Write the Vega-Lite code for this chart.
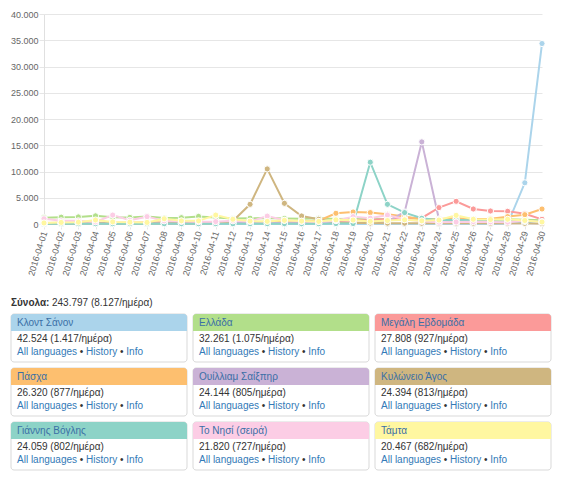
{
  "$schema": "https://vega.github.io/schema/vega-lite/v6.json",
  "padding": {"left": 10, "top": 10, "right": 5, "bottom": 2},
  "spacing": 2,
  "config": {
    "font": "Liberation Sans",
    "locale": {"number": {"decimal": ",", "thousands": ".", "grouping": [3], "currency": ["", " €"]}},
    "view": {"stroke": null},
    "axis": {
      "gridColor": "#e6e6e6", "tickColor": "#e6e6e6", "domainColor": "#d6d6d6",
      "labelColor": "#666666", "labelFont": "Liberation Sans", "labelFontSize": 9,
      "tickSize": 5, "title": null
    }
  },
  "datasets": {
    "articles": [
      {"rank": 1, "name": "Κλοντ Σάνον", "total": 42524, "daily": 1417},
      {"rank": 2, "name": "Ελλάδα", "total": 32261, "daily": 1075},
      {"rank": 3, "name": "Μεγάλη Εβδομάδα", "total": 27808, "daily": 927},
      {"rank": 4, "name": "Πάσχα", "total": 26320, "daily": 877},
      {"rank": 5, "name": "Ουίλλιαμ Σαίξπηρ", "total": 24144, "daily": 805},
      {"rank": 6, "name": "Κυλώνειο Άγος", "total": 24394, "daily": 813},
      {"rank": 7, "name": "Γιάννης Βόγλης", "total": 24059, "daily": 802},
      {"rank": 8, "name": "Το Νησί (σειρά)", "total": 21820, "daily": 727},
      {"rank": 9, "name": "Τάμτα", "total": 20467, "daily": 682}
    ],
    "views": [
      {"date": "2016-04-01", "Κλοντ Σάνον": 12, "Ελλάδα": 1200, "Μεγάλη Εβδομάδα": 150, "Πάσχα": 200, "Ουίλλιαμ Σαίξπηρ": 180, "Κυλώνειο Άγος": 90, "Γιάννης Βόγλης": 60, "Το Νησί (σειρά)": 1000, "Τάμτα": 200},
      {"date": "2016-04-02", "Κλοντ Σάνον": 10, "Ελλάδα": 1300, "Μεγάλη Εβδομάδα": 170, "Πάσχα": 220, "Ουίλλιαμ Σαίξπηρ": 170, "Κυλώνειο Άγος": 110, "Γιάννης Βόγλης": 55, "Το Νησί (σειρά)": 600, "Τάμτα": 300},
      {"date": "2016-04-03", "Κλοντ Σάνον": 9, "Ελλάδα": 1350, "Μεγάλη Εβδομάδα": 160, "Πάσχα": 230, "Ουίλλιαμ Σαίξπηρ": 190, "Κυλώνειο Άγος": 100, "Γιάννης Βόγλης": 65, "Το Νησί (σειρά)": 600, "Τάμτα": 350},
      {"date": "2016-04-04", "Κλοντ Σάνον": 11, "Ελλάδα": 1550, "Μεγάλη Εβδομάδα": 200, "Πάσχα": 250, "Ουίλλιαμ Σαίξπηρ": 160, "Κυλώνειο Άγος": 120, "Γιάννης Βόγλης": 50, "Το Νησί (σειρά)": 400, "Τάμτα": 760},
      {"date": "2016-04-05", "Κλοντ Σάνον": 8, "Ελλάδα": 1300, "Μεγάλη Εβδομάδα": 190, "Πάσχα": 240, "Ουίλλιαμ Σαίξπηρ": 200, "Κυλώνειο Άγος": 90, "Γιάννης Βόγλης": 60, "Το Νησί (σειρά)": 1700, "Τάμτα": 400},
      {"date": "2016-04-06", "Κλοντ Σάνον": 7, "Ελλάδα": 1250, "Μεγάλη Εβδομάδα": 210, "Πάσχα": 260, "Ουίλλιαμ Σαίξπηρ": 170, "Κυλώνειο Άγος": 100, "Γιάννης Βόγλης": 55, "Το Νησί (σειρά)": 700, "Τάμτα": 350},
      {"date": "2016-04-07", "Κλοντ Σάνον": 10, "Ελλάδα": 1411, "Μεγάλη Εβδομάδα": 230, "Πάσχα": 270, "Ουίλλιαμ Σαίξπηρ": 180, "Κυλώνειο Άγος": 110, "Γιάννης Βόγλης": 45, "Το Νησί (σειρά)": 1400, "Τάμτα": 300},
      {"date": "2016-04-08", "Κλοντ Σάνον": 12, "Ελλάδα": 1150, "Μεγάλη Εβδομάδα": 220, "Πάσχα": 280, "Ουίλλιαμ Σαίξπηρ": 190, "Κυλώνειο Άγος": 95, "Γιάννης Βόγλης": 50, "Το Νησί (σειρά)": 600, "Τάμτα": 1000},
      {"date": "2016-04-09", "Κλοντ Σάνον": 9, "Ελλάδα": 1200, "Μεγάλη Εβδομάδα": 240, "Πάσχα": 290, "Ουίλλιαμ Σαίξπηρ": 160, "Κυλώνειο Άγος": 105, "Γιάννης Βόγλης": 60, "Το Νησί (σειρά)": 500, "Τάμτα": 600},
      {"date": "2016-04-10", "Κλοντ Σάνον": 8, "Ελλάδα": 1450, "Μεγάλη Εβδομάδα": 280, "Πάσχα": 300, "Ουίλλιαμ Σαίξπηρ": 170, "Κυλώνειο Άγος": 100, "Γιάννης Βόγλης": 55, "Το Νησί (σειρά)": 450, "Τάμτα": 600},
      {"date": "2016-04-11", "Κλοντ Σάνον": 11, "Ελλάδα": 1250, "Μεγάλη Εβδομάδα": 300, "Πάσχα": 320, "Ουίλλιαμ Σαίξπηρ": 180, "Κυλώνειο Άγος": 110, "Γιάννης Βόγλης": 65, "Το Νησί (σειρά)": 450, "Τάμτα": 1700},
      {"date": "2016-04-12", "Κλοντ Σάνον": 10, "Ελλάδα": 1050, "Μεγάλη Εβδομάδα": 320, "Πάσχα": 350, "Ουίλλιαμ Σαίξπηρ": 170, "Κυλώνειο Άγος": 570, "Γιάννης Βόγλης": 50, "Το Νησί (σειρά)": 600, "Τάμτα": 900},
      {"date": "2016-04-13", "Κλοντ Σάνον": 9, "Ελλάδα": 1100, "Μεγάλη Εβδομάδα": 350, "Πάσχα": 380, "Ουίλλιαμ Σαίξπηρ": 190, "Κυλώνειο Άγος": 3750, "Γιάννης Βόγλης": 55, "Το Νησί (σειρά)": 500, "Τάμτα": 550},
      {"date": "2016-04-14", "Κλοντ Σάνον": 8, "Ελλάδα": 1150, "Μεγάλη Εβδομάδα": 380, "Πάσχα": 420, "Ουίλλιαμ Σαίξπηρ": 180, "Κυλώνειο Άγος": 10490, "Γιάννης Βόγλης": 60, "Το Νησί (σειρά)": 1500, "Τάμτα": 500},
      {"date": "2016-04-15", "Κλοντ Σάνον": 10, "Ελλάδα": 1050, "Μεγάλη Εβδομάδα": 400, "Πάσχα": 450, "Ουίλλιαμ Σαίξπηρ": 170, "Κυλώνειο Άγος": 3940, "Γιάννης Βόγλης": 65, "Το Νησί (σειρά)": 700, "Τάμτα": 700},
      {"date": "2016-04-16", "Κλοντ Σάνον": 12, "Ελλάδα": 1000, "Μεγάλη Εβδομάδα": 420, "Πάσχα": 520, "Ουίλλιαμ Σαίξπηρ": 160, "Κυλώνειο Άγος": 1530, "Γιάννης Βόγλης": 60, "Το Νησί (σειρά)": 500, "Τάμτα": 550},
      {"date": "2016-04-17", "Κλοντ Σάνον": 9, "Ελλάδα": 1100, "Μεγάλη Εβδομάδα": 480, "Πάσχα": 640, "Ουίλλιαμ Σαίξπηρ": 180, "Κυλώνειο Άγος": 900, "Γιάννης Βόγλης": 55, "Το Νησί (σειρά)": 450, "Τάμτα": 500},
      {"date": "2016-04-18", "Κλοντ Σάνον": 11, "Ελλάδα": 950, "Μεγάλη Εβδομάδα": 560, "Πάσχα": 2040, "Ουίλλιαμ Σαίξπηρ": 190, "Κυλώνειο Άγος": 280, "Γιάννης Βόγλης": 90, "Το Νησί (σειρά)": 640, "Τάμτα": 800},
      {"date": "2016-04-19", "Κλοντ Σάνον": 10, "Ελλάδα": 1000, "Μεγάλη Εβδομάδα": 650, "Πάσχα": 2290, "Ουίλλιαμ Σαίξπηρ": 200, "Κυλώνειο Άγος": 210, "Γιάννης Βόγλης": 85, "Το Νησί (σειρά)": 1400, "Τάμτα": 750},
      {"date": "2016-04-20", "Κλοντ Σάνον": 9, "Ελλάδα": 950, "Μεγάλη Εβδομάδα": 750, "Πάσχα": 2170, "Ουίλλιαμ Σαίξπηρ": 210, "Κυλώνειο Άγος": 180, "Γιάννης Βόγλης": 11770, "Το Νησί (σειρά)": 1100, "Τάμτα": 500},
      {"date": "2016-04-21", "Κλοντ Σάνον": 8, "Ελλάδα": 900, "Μεγάλη Εβδομάδα": 950, "Πάσχα": 1850, "Ουίλλιαμ Σαίξπηρ": 450, "Κυλώνειο Άγος": 160, "Γιάννης Βόγλης": 3750, "Το Νησί (σειρά)": 1700, "Τάμτα": 650},
      {"date": "2016-04-22", "Κλοντ Σάνον": 10, "Ελλάδα": 850, "Μεγάλη Εβδομάδα": 1000, "Πάσχα": 1410, "Ουίλλιαμ Σαίξπηρ": 2300, "Κυλώνειο Άγος": 150, "Γιάννης Βόγλης": 2170, "Το Νησί (σειρά)": 900, "Τάμτα": 800},
      {"date": "2016-04-23", "Κλοντ Σάνον": 12, "Ελλάδα": 800, "Μεγάλη Εβδομάδα": 1158, "Πάσχα": 900, "Ουίλλιαμ Σαίξπηρ": 15640, "Κυλώνειο Άγος": 140, "Γιάννης Βόγλης": 1090, "Το Νησί (σειρά)": 500, "Τάμτα": 600},
      {"date": "2016-04-24", "Κλοντ Σάνον": 11, "Ελλάδα": 850, "Μεγάλη Εβδομάδα": 3120, "Πάσχα": 950, "Ουίλλιαμ Σαίξπηρ": 900, "Κυλώνειο Άγος": 150, "Γιάννης Βόγλης": 700, "Το Νησί (σειρά)": 350, "Τάμτα": 750},
      {"date": "2016-04-25", "Κλοντ Σάνον": 9, "Ελλάδα": 900, "Μεγάλη Εβδομάδα": 4320, "Πάσχα": 1100, "Ουίλλιαμ Σαίξπηρ": 320, "Κυλώνειο Άγος": 160, "Γιάννης Βόγλης": 800, "Το Νησί (σειρά)": 380, "Τάμτα": 1650},
      {"date": "2016-04-26", "Κλοντ Σάνον": 10, "Ελλάδα": 950, "Μεγάλη Εβδομάδα": 2860, "Πάσχα": 950, "Ουίλλιαμ Σαίξπηρ": 230, "Κυλώνειο Άγος": 150, "Γιάννης Βόγλης": 650, "Το Νησί (σειρά)": 450, "Τάμτα": 900},
      {"date": "2016-04-27", "Κλοντ Σάνον": 14, "Ελλάδα": 850, "Μεγάλη Εβδομάδα": 2480, "Πάσχα": 1000, "Ουίλλιαμ Σαίξπηρ": 200, "Κυλώνειο Άγος": 140, "Γιάννης Βόγλης": 550, "Το Νησί (σειρά)": 400, "Τάμτα": 850},
      {"date": "2016-04-28", "Κλοντ Σάνον": 30, "Ελλάδα": 900, "Μεγάλη Εβδομάδα": 2420, "Πάσχα": 1400, "Ουίλλιαμ Σαίξπηρ": 180, "Κυλώνειο Άγος": 130, "Γιάννης Βόγλης": 500, "Το Νησί (σειρά)": 350, "Τάμτα": 900},
      {"date": "2016-04-29", "Κλοντ Σάνον": 7850, "Ελλάδα": 800, "Μεγάλη Εβδομάδα": 1950, "Πάσχα": 1780, "Ουίλλιαμ Σαίξπηρ": 170, "Κυλώνειο Άγος": 120, "Γιάννης Βόγλης": 480, "Το Νησί (σειρά)": 600, "Τάμτα": 677},
      {"date": "2016-04-30", "Κλοντ Σάνον": 34375, "Ελλάδα": 700, "Μεγάλη Εβδομάδα": 890, "Πάσχα": 2860, "Ουίλλιαμ Σαίξπηρ": 154, "Κυλώνειο Άγος": 114, "Γιάννης Βόγλης": 459, "Το Νησί (σειρά)": 400, "Τάμτα": 380}
    ]
  },
  "vconcat": [
    {
      "width": 498,
      "height": 210,
      "data": {"name": "views"},
      "transform": [
        {"fold": ["Κλοντ Σάνον", "Ελλάδα", "Μεγάλη Εβδομάδα", "Πάσχα", "Ουίλλιαμ Σαίξπηρ", "Κυλώνειο Άγος", "Γιάννης Βόγλης", "Το Νησί (σειρά)", "Τάμτα"], "as": ["article", "views"]}
      ],
      "encoding": {
        "x": {"field": "date", "type": "ordinal", "scale": {"type": "point", "padding": 0},
              "axis": {"labelAngle": -73, "labelPadding": 2, "domain": false}},
        "y": {"field": "views", "type": "quantitative", "scale": {"domain": [0, 40000]},
              "axis": {"values": [0, 5000, 10000, 15000, 20000, 25000, 30000, 35000, 40000], "format": ",d", "labelPadding": 1, "domainColor": "#e0e0e0"}},
        "color": {"field": "article", "type": "nominal", "legend": null,
                  "scale": {"domain": ["Κλοντ Σάνον", "Ελλάδα", "Μεγάλη Εβδομάδα", "Πάσχα", "Ουίλλιαμ Σαίξπηρ", "Κυλώνειο Άγος", "Γιάννης Βόγλης", "Το Νησί (σειρά)", "Τάμτα"],
                            "range": ["#abd4eb", "#b2df8a", "#fb9a99", "#fdbf6f", "#cab2d6", "#cfb680", "#8dd3c7", "#fccde5", "#fff7a1"]}}
      },
      "layer": [
        {"mark": {"type": "line", "strokeWidth": 2}},
        {"mark": {"type": "point", "filled": true, "size": 38, "stroke": "white", "strokeWidth": 1, "opacity": 1}}
      ]
    },
    {
      "width": 498,
      "height": 31,
      "data": {"values": [{"label": "Σύνολα:", "value": "243.797 (8.127/ημέρα)"}]},
      "layer": [
        {"mark": {"type": "text", "align": "left", "baseline": "middle", "fontSize": 10, "fontWeight": "bold", "color": "#333333", "x": -33, "y": 24},
         "encoding": {"text": {"field": "label"}}},
        {"mark": {"type": "text", "align": "left", "baseline": "middle", "fontSize": 10, "color": "#333333", "x": 8, "y": 24},
         "encoding": {"text": {"field": "value"}}}
      ]
    },
    {
      "data": {"name": "articles"},
      "transform": [
        {"calculate": "format(datum.total, ',d') + ' (' + format(datum.daily, ',d') + '/ημέρα)'", "as": "stats"}
      ],
      "facet": {"field": "name", "type": "nominal", "sort": {"field": "rank", "op": "min"},
                "header": {"labelExpr": "''", "labelPadding": 0, "labelFontSize": 1, "labels": false, "title": null}, "title": null},
      "columns": 3,
      "bounds": "flush",
      "spacing": {"row": 6, "column": 6},
      "spec": {
        "width": 176,
        "height": 48,
        "layer": [
          {"mark": {"type": "rect", "fill": "white", "stroke": "#d9d9d9", "cornerRadius": 3},
           "encoding": {"x": {"value": -33}, "x2": {"value": 143}, "y": {"value": 0}, "y2": {"value": "height"}}},
          {"mark": {"type": "rect", "cornerRadiusTopLeft": 3, "cornerRadiusTopRight": 3},
           "encoding": {"x": {"value": -33}, "x2": {"value": 143}, "y": {"value": 0}, "y2": {"value": 17},
                        "fill": {"field": "name", "type": "nominal", "legend": null,
                                 "scale": {"domain": ["Κλοντ Σάνον", "Ελλάδα", "Μεγάλη Εβδομάδα", "Πάσχα", "Ουίλλιαμ Σαίξπηρ", "Κυλώνειο Άγος", "Γιάννης Βόγλης", "Το Νησί (σειρά)", "Τάμτα"],
                                           "range": ["#abd4eb", "#b2df8a", "#fb9a99", "#fdbf6f", "#cab2d6", "#cfb680", "#8dd3c7", "#fccde5", "#fff7a1"]}}}},
          {"mark": {"type": "text", "align": "left", "baseline": "middle", "fontSize": 10, "color": "#3a6fa6", "x": -27, "y": 9},
           "encoding": {"text": {"field": "name"}}},
          {"mark": {"type": "text", "align": "left", "baseline": "middle", "fontSize": 10, "color": "#333333", "x": -27, "y": 25},
           "encoding": {"text": {"field": "stats"}}},
          {"mark": {"type": "text", "align": "left", "baseline": "middle", "fontSize": 10, "color": "#337ab7", "x": -27, "y": 38, "text": "All languages"},
           "encoding": {}},
          {"mark": {"type": "text", "align": "left", "baseline": "middle", "fontSize": 10, "color": "#333333", "x": 35.8, "y": 38, "text": "•"},
           "encoding": {}},
          {"mark": {"type": "text", "align": "left", "baseline": "middle", "fontSize": 10, "color": "#337ab7", "x": 42.1, "y": 38, "text": "History"},
           "encoding": {}},
          {"mark": {"type": "text", "align": "left", "baseline": "middle", "fontSize": 10, "color": "#333333", "x": 76, "y": 38, "text": "•"},
           "encoding": {}},
          {"mark": {"type": "text", "align": "left", "baseline": "middle", "fontSize": 10, "color": "#337ab7", "x": 82.3, "y": 38, "text": "Info"},
           "encoding": {}}
        ]
      }
    }
  ]
}
